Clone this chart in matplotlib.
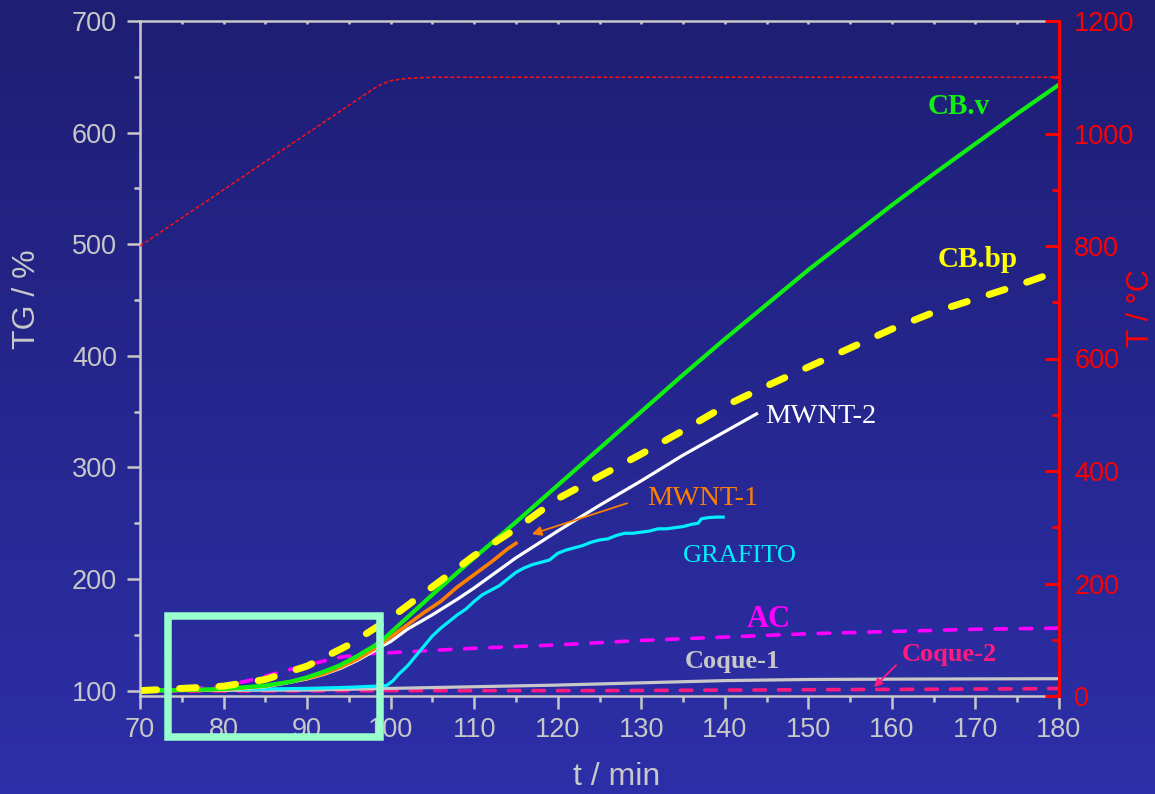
import numpy as np
import matplotlib
matplotlib.use('Agg')
from matplotlib import pyplot as plt
from matplotlib.patches import Rectangle
from matplotlib.ticker import MultipleLocator

# temperature programme (right axis)
t_temp = [70, 75, 80, 85, 90, 95, 98, 99, 100, 102, 105, 180]
temp = [800, 850, 900, 950, 1000, 1050, 1080, 1088, 1094, 1098, 1100, 1100]

# TG curves (left axis)
t_cbv = [70, 75, 80, 85, 88, 90, 92, 94, 96, 98, 99, 100, 105, 110, 115, 120, 125,
         130, 135, 140, 145, 150, 155, 160, 165, 170, 175, 180]
tg_cbv = [100, 100.5, 101.5, 104.5, 108, 112, 117, 123, 131, 140, 145, 152, 186, 219,
          251, 284, 317, 350, 383, 415, 446, 477, 506, 535, 563, 590, 617, 643]

t_cbbp = [70, 75, 80, 85, 90, 95, 100, 105, 110, 115, 120, 125, 130, 135, 140, 145,
          150, 155, 160, 165, 170, 175, 180]
tg_cbbp = [100, 102, 104, 110, 122, 141, 165, 193, 221, 245, 272, 292, 312, 333, 355,
           373, 390, 407, 424, 439, 451, 463, 476]

t_mwnt2 = [70, 80, 85, 88, 90, 92, 94, 96, 98, 99, 100, 102, 105, 108, 110, 115, 120,
           125, 130, 135, 140, 143.8]
tg_mwnt2 = [100, 100.5, 103.5, 107.5, 110.5, 114.5, 120, 127, 135.5, 140, 144, 155,
            168, 182, 192, 219, 243, 266, 288, 311, 332, 348]

t_mwnt1 = [70, 75, 80, 85, 88, 90, 92, 94, 96, 98, 100, 102, 104, 106, 108, 110, 112,
           114, 115]
tg_mwnt1 = [100, 100.5, 101, 104, 108, 111, 115, 121, 128, 137, 148, 159, 170, 180,
            193, 204, 215, 227, 232]

t_graf = [70, 80, 90, 95, 99.5, 100.3, 101, 102, 103, 104, 105, 106, 107, 108, 109,
          110, 111, 112, 113, 114, 115, 116, 117, 118, 119, 120, 121, 122, 123, 124,
          125, 126, 127, 128, 129, 130, 131, 132, 133, 134, 135, 136, 136.8, 137.2,
          138, 139, 139.8]
tg_graf = [100.5, 101, 102, 103, 104.5, 109, 115, 122, 131, 140, 149, 156, 162, 168,
           173, 180, 186, 190, 194, 200, 206, 210, 213, 215, 217, 223, 226, 228, 230,
           233, 235, 236, 239, 241, 241, 242, 243, 245, 245, 246, 247, 249, 250, 254,
           255, 255.5, 255.5]

t_ac = [70, 75, 80, 83, 86, 90, 94, 97, 100, 105, 110, 120, 130, 140, 150, 160, 170, 180]
tg_ac = [100, 101, 104, 109, 115, 123, 130, 133, 134, 136, 138, 141, 145, 148, 151,
         153, 155, 156]

t_coq1 = [70, 90, 100, 110, 120, 130, 140, 150, 160, 170, 180]
tg_coq1 = [100, 100.5, 102, 103.5, 105, 107, 109, 110, 110.3, 110.5, 110.7]

t_coq2 = [70, 100, 125, 150, 175, 180]
tg_coq2 = [99.5, 100, 100, 100.8, 101.6, 102]

grey = '#c8c8c8'
red = '#ff0000'

fig = plt.figure(figsize=(11.55, 7.94), dpi=100)

# background gradient
bg = fig.add_axes([0, 0, 1, 1], zorder=-10)
top_c = np.array([30, 30, 116]) / 255
bot_c = np.array([45, 47, 168]) / 255
g = np.linspace(0, 1, 256)[:, None]
grad = top_c[None, :] * (1 - g) + bot_c[None, :] * g
bg.imshow(grad[:, None, :], aspect='auto', extent=[0, 1, 0, 1])
bg.axis('off')

ax = fig.add_axes([140 / 1155, 1 - 696 / 794, (1059 - 140) / 1155, (696 - 21) / 794])
ax.patch.set_alpha(0)
ax2 = ax.twinx()
ax2.patch.set_alpha(0)

# temperature
ax2.plot(t_temp, temp, color='#ff1010', lw=1.1, linestyle=(0, (2.5, 1.5)))
ax2.set_ylim(0, 1200)

ax.plot(t_coq2, tg_coq2, color='#ff1a80', lw=2.6, linestyle=(0, (3.2, 3.6)),
        dash_capstyle='round')
ax.plot(t_coq1, tg_coq1, color=grey, lw=2.3)
ax.plot(t_ac, tg_ac, color='#ff00ff', lw=2.6, linestyle=(0, (3.2, 3.8)),
        dash_capstyle='round')
ax.plot(t_graf, tg_graf, color='#00f0ff', lw=2.3)
ax.plot(t_mwnt2, tg_mwnt2, color='white', lw=2.3)
ax.plot(t_mwnt1, tg_mwnt1, color='#ff8000', lw=2.6)
ax.plot(t_cbv, tg_cbv, color='#11ee11', lw=3.0)
ax.plot(t_cbbp, tg_cbbp, color='#ffff00', lw=5, linestyle=(0, (2.4, 3.3)),
        dash_capstyle='round')

ax.set_xlim(70, 180)
ax.set_ylim(95.2, 700)

# highlight box
ax.add_patch(Rectangle((73.35, 58.5), 98.67 - 73.35, 166.8 - 58.5, fill=False,
                       edgecolor='#99ffcc', lw=5.4, clip_on=False, zorder=10,
                       joinstyle='miter'))

serif = 'Liberation Serif'
ax.text(168.0, 617, 'CB.v', color='#11ee11', family=serif, weight='bold',
        fontsize=21, ha='center', va='baseline')
ax.text(170.3, 479.5, 'CB.bp', color='#ffff00', family=serif, weight='bold',
        fontsize=21, ha='center', va='baseline')
ax.text(144.8, 339.6, 'MWNT-2', color='white', family=serif, fontsize=20.5,
        ha='left', va='baseline')
ax.text(130.7, 266.1, 'MWNT-1', color='#ff8000', family=serif, fontsize=20.5,
        ha='left', va='baseline')
ax.text(141.8, 215.3, 'GRAFITO', color='#00f0ff', family=serif, fontsize=19,
        ha='center', va='baseline')
ax.text(145.3, 157.1, 'AC', color='#ff00ff', family=serif, weight='bold',
        fontsize=22, ha='center', va='baseline')
ax.text(140.9, 120.1, 'Coque-1', color=grey, family=serif, weight='bold',
        fontsize=19, ha='center', va='baseline')
ax.text(166.9, 126.4, 'Coque-2', color='#ff1a80', family=serif, weight='bold',
        fontsize=19, ha='center', va='baseline')

ax.annotate('', xy=(116.9, 240.2), xytext=(128.3, 267.9),
            arrowprops=dict(arrowstyle='-|>', color='#ff8000', lw=1.3,
                            mutation_scale=14, shrinkA=0, shrinkB=0))
ax.annotate('', xy=(157.85, 103.1), xytext=(160.5, 122.8),
            arrowprops=dict(arrowstyle='-|>', color='#ff1a80', lw=1.3,
                            mutation_scale=12, shrinkA=0, shrinkB=0))

# axes styling
sans = 'Liberation Sans'
for s in ['left', 'bottom', 'top']:
    ax.spines[s].set_color(grey)
    ax.spines[s].set_linewidth(1.8)
ax.spines['right'].set_visible(False)
for s in ['left', 'bottom', 'top']:
    ax2.spines[s].set_visible(False)
ax2.spines['right'].set_color(red)
ax2.spines['right'].set_linewidth(2.2)

ax.xaxis.set_major_locator(MultipleLocator(10))
ax.xaxis.set_minor_locator(MultipleLocator(5))
ax.yaxis.set_major_locator(MultipleLocator(100))
ax.yaxis.set_minor_locator(MultipleLocator(50))
ax2.yaxis.set_major_locator(MultipleLocator(200))
ax2.yaxis.set_minor_locator(MultipleLocator(100))

ax.tick_params(which='major', direction='out', length=9.4, width=1.8, color=grey,
               labelcolor=grey, labelsize=19.5, pad=7)
ax.tick_params(which='minor', direction='out', length=4, width=1.8, color=grey)
ax.tick_params(axis='x', which='major', pad=6)
ax2.tick_params(which='major', direction='in', length=10, width=2.2, color=red,
                labelcolor=red, labelsize=19.5, pad=11)
ax2.tick_params(which='minor', direction='in', length=5, width=2.2, color=red)
for lab in ax.get_xticklabels() + ax.get_yticklabels() + ax2.get_yticklabels():
    lab.set_family(sans)

top = ax.secondary_xaxis('top')
top.xaxis.set_major_locator(MultipleLocator(5))
top.tick_params(direction='in', length=2.5, width=1.8, color=grey, labeltop=False)
top.spines['top'].set_visible(False)

fig.text(27 / 1155, 1 - 299 / 794, 'TG / %', rotation=90, color=grey, family=sans,
         fontsize=23, ha='center', va='center')
fig.text(1141 / 1155, 1 - 308 / 794, 'T / °C', rotation=90, color=red, family=sans,
         fontsize=22, ha='center', va='center')
fig.text(617 / 1155, 1 - 792 / 794, 't / min', color=grey, family=sans,
         fontsize=23, ha='center', va='bottom')

fig.savefig('out.png', dpi=100)
